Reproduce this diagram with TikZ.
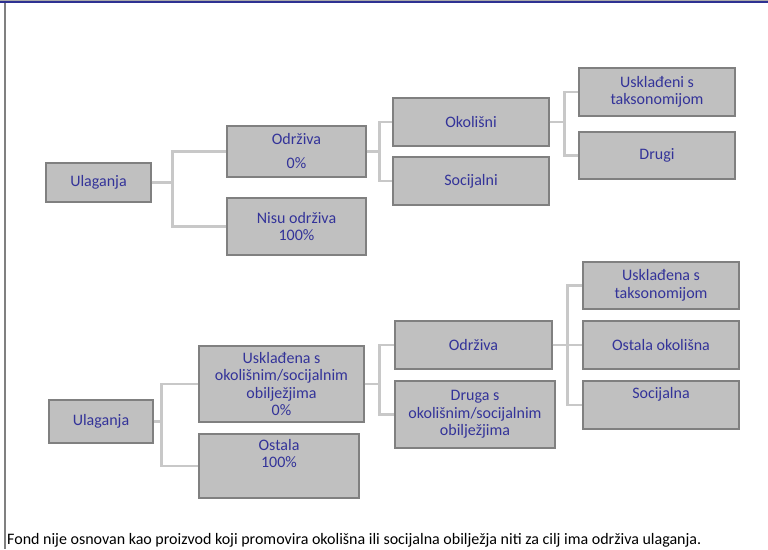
\documentclass[tikz,border=0pt]{standalone}
\usepackage{fontspec}
\setmainfont{Carlito}
\definecolor{boxfill}{RGB}{192,192,192}
\definecolor{boxline}{RGB}{128,128,128}
\definecolor{connc}{RGB}{200,200,200}
\definecolor{txtc}{RGB}{51,51,153}
\definecolor{topblue}{RGB}{46,49,146}
\definecolor{framegray}{RGB}{128,128,128}
\tikzset{
  bx/.style={draw=boxline, line width=1.3pt, fill=boxfill, rectangle, inner sep=0pt,
    text=txtc, align=center, font=\fontsize{16}{17.5}\selectfont},
  txt/.style={text=txtc, align=center, inner sep=0pt, font=\fontsize{16}{17.5}\selectfont},
  conn/.style={draw=connc, line width=2.6pt, line join=miter}
}
\newcommand{\boxat}[6]{%
  \node[bx, minimum width={(#4-#2)*1pt}, minimum height={(#5-#3)*1pt}] (#1) at ({(#2+#4)/2},{(#3+#5)/2}) {#6};}
\begin{document}
\begin{tikzpicture}[x=1pt,y=-1pt]
\useasboundingbox (0,0) rectangle (768,549);
\fill[white] (0,0) rectangle (768,549);
% frame
\draw[line width=1pt, draw={rgb,255:red,170;green,170;blue,170}] (0,0.5) -- (768,0.5);
\draw[line width=2.4pt, draw=topblue] (0,2.2) -- (768,2.2);
\draw[line width=1.8pt, draw=framegray] (4.6,3) -- (4.6,549);
% upper tree
\boxat{ua}{46}{163}{151}{202}{Ulaganja}
\boxat{oa}{227}{126}{366}{177}{Održiva\\[6.5pt]0\%}
\boxat{na}{227}{198}{366}{255}{Nisu održiva\\100\%}
\boxat{ok}{393}{98}{549}{146}{Okolišni}
\boxat{so}{393}{157}{549}{205}{Socijalni}
\boxat{ut}{579}{68}{735}{116}{Usklađeni s\\taksonomijom}
\boxat{dr}{579}{132}{735}{179}{Drugi}
% lower tree
\boxat{ub}{49}{400}{153}{443}{Ulaganja}
\boxat{uo}{199}{346}{364}{422}{Usklađena s\\okolišnim/socijalnim\\obilježjima\\0\%}
\boxat{os}{199}{434}{359}{498}{}
\node[txt] (ost) at (279,453.5) {Ostala\\100\%};
\boxat{od}{395}{321}{552}{369}{Održiva}
\boxat{dg}{395}{381}{555}{448}{Druga s\\okolišnim/socijalnim\\obilježjima}
\boxat{tk}{583}{262}{739}{309}{Usklađena s\\taksonomijom}
\boxat{oo}{583}{321}{739}{369}{Ostala okolišna}
\boxat{sc}{583}{381}{739}{429}{}
\node[txt] (sct) at (661,394) {Socijalna};
% connectors
\draw[conn] (ua.east) -- ++(21,0) |- (oa.west);
\draw[conn] (ua.east) -- ++(21,0) |- (na.west);
\draw[conn] (oa.east) -- ++(13,0) |- (ok.west);
\draw[conn] (oa.east) -- ++(13,0) |- (so.west);
\draw[conn] (ok.east) -- ++(15,0) |- (ut.west);
\draw[conn] (ok.east) -- ++(15,0) |- (dr.west);
\draw[conn] (ub.east) -- ++(8,0) |- (uo.west);
\draw[conn] (ub.east) -- ++(8,0) |- (os.west);
\draw[conn] (uo.east) -- ++(15,0) |- (od.west);
\draw[conn] (uo.east) -- ++(15,0) |- (dg.west);
\draw[conn] (od.east) -- ++(15,0) |- (tk.west);
\draw[conn] (od.east) -- (oo.west);
\draw[conn] (od.east) -- ++(15,0) |- (sc.west);
% footer
\node[anchor=west, inner sep=0pt, font=\fontsize{16}{18}\selectfont] (ft) at (7,540) {Fond nije osnovan kao proizvod koji promovira okolišna ili socijalna obilježja niti za cilj ima održiva ulaganja.};
\end{tikzpicture}
\end{document}
